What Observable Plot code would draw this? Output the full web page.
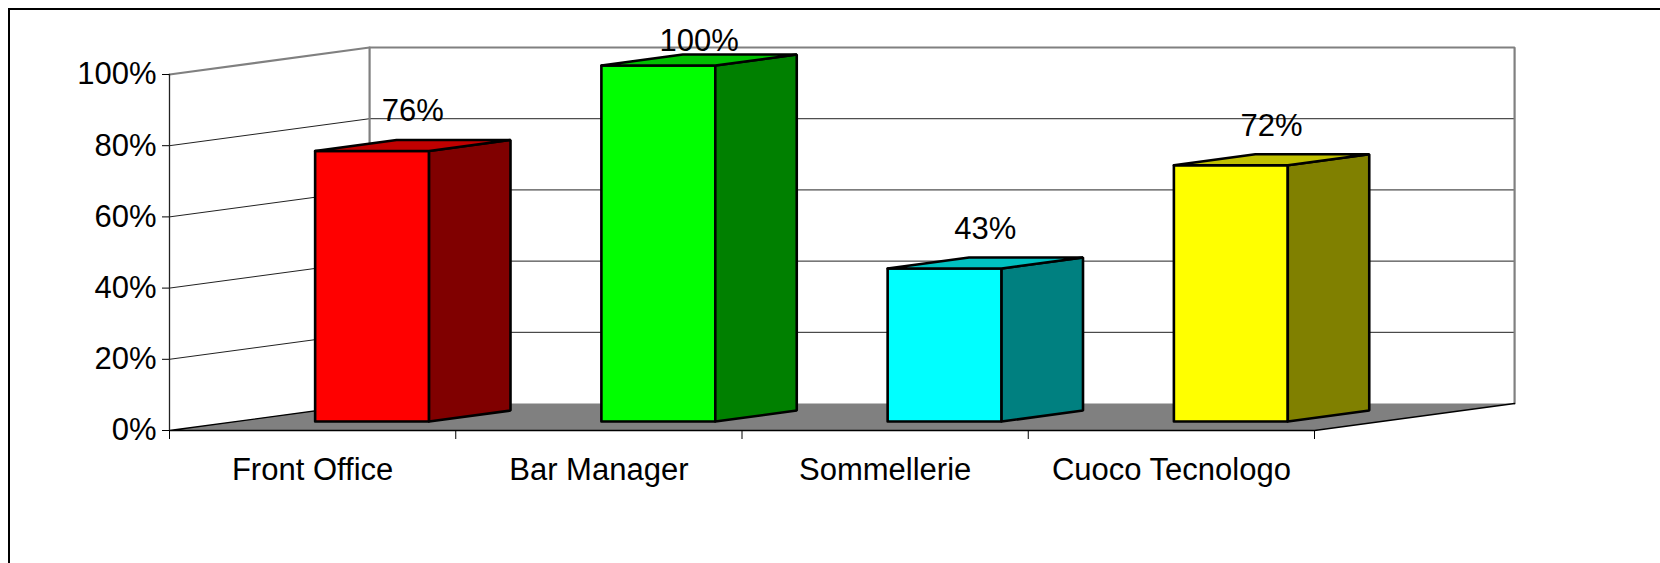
<!DOCTYPE html>
<html>
<head>
<meta charset="utf-8">
<script src="https://cdn.jsdelivr.net/npm/d3@7"></script>
<script src="https://cdn.jsdelivr.net/npm/@observablehq/plot@0.6"></script>
<style>
  html, body { margin: 0; padding: 0; background: #fff; overflow: hidden; width: 1660px; height: 563px; }
  #wrap { position: relative; width: 1660px; height: 563px; overflow: hidden; }
  #frame { position: absolute; left: 8px; top: 8px; width: 1700px; height: 700px; border-top: 2px solid #000; border-left: 2px solid #000; box-sizing: border-box; pointer-events: none; }
  #chart { position: absolute; left: 0; top: 0; }
</style>
</head>
<body>
<div id="wrap"><div id="chart"></div><div id="frame"></div></div>
<script>
// ---- data ----
const categories = ["Front Office", "Bar Manager", "Sommellerie", "Cuoco Tecnologo"];
const values = [0.76, 1.00, 0.43, 0.72];
const frontColors = ["#FF0000", "#00FF00", "#00FFFF", "#FFFF00"];
const sideColors = ["#800000", "#008000", "#008080", "#808000"];
const topColors = ["#C00000", "#00C000", "#00C0C0", "#C0C000"];
const yTicks = [0, 0.2, 0.4, 0.6, 0.8, 1.0];
const yTickLabels = ["0%", "20%", "40%", "60%", "80%", "100%"];

// ---- oblique 3D projection expressed in data units ----
const DEPTH_X = 0.699;   // category units shifted per full floor depth
const DEPTH_Y = 0.0758;  // value units shifted per full floor depth
const BAR_Z0 = 0.333, BAR_Z1 = 0.74;   // bar front / back planes
const BAR_U0 = 0.276, BAR_U1 = 0.674;  // bar left / right inside its category
const LABEL_MAX = 1.0;                 // data labels stay inside plot area
const n = categories.length;
const P = (u, v, z) => ({x: u + z * DEPTH_X, y: v + z * DEPTH_Y});
const poly = pts => [...pts, pts[0]];

const font = "'Liberation Sans', Arial, Helvetica, sans-serif";
const marks = [];

// floor
marks.push(Plot.line(poly([P(0,0,0), P(n,0,0), P(n,0,1), P(0,0,1)]),
  {x: "x", y: "y", fill: "#808080", stroke: "none"}));

// wall gridlines (back wall + left wall)
for (const t of yTicks) {
  if (t === 0 || t === 1) continue;
  marks.push(Plot.line([P(0,t,0), P(0,t,1), P(n,t,1)],
    {x: "x", y: "y", stroke: "#222", strokeWidth: 1}));
}
// wall outlines (top edge, back wall vertical edges)
marks.push(Plot.line([P(0,1,0), P(0,1,1), P(n,1,1), P(n,0,1)],
  {x: "x", y: "y", stroke: "#808080", strokeWidth: 2.2, strokeLinejoin: "miter"}));
marks.push(Plot.line([P(0,0,1), P(0,1,1)],
  {x: "x", y: "y", stroke: "#808080", strokeWidth: 2.2}));
// floor edges
marks.push(Plot.line([P(0,0,1), P(0,0,0), P(n,0,0), P(n,0,1)],
  {x: "x", y: "y", stroke: "#000", strokeWidth: 1.3}));
// front-left axis edge
marks.push(Plot.line([P(0,0,0), P(0,1,0)],
  {x: "x", y: "y", stroke: "#222", strokeWidth: 1.3}));

// axes
marks.push(Plot.axisY({ticks: yTicks, tickFormat: d => yTickLabels[yTicks.indexOf(d)], label: null,
  tickSize: 7, tickPadding: 6, fontSize: 31, stroke: "#000", fill: "#000"}));
marks.push(Plot.axisX({ticks: d3.range(n + 1), tickFormat: () => "", label: null, tickSize: 9, stroke: "#000"}));
marks.push(Plot.axisX({ticks: d3.range(n).map(i => i + 0.5), tickFormat: d => categories[Math.floor(d)],
  label: null, tickSize: 0, tickPadding: 27, fontSize: 31, fill: "#000"}));

// bars
categories.forEach((c, i) => {
  const v = values[i];
  const u0 = i + BAR_U0, u1 = i + BAR_U1;
  const style = {x: "x", y: "y", stroke: "#000", strokeWidth: 2.6, strokeLinejoin: "miter"};
  marks.push(Plot.line(poly([P(u0,0,BAR_Z0), P(u1,0,BAR_Z0), P(u1,v,BAR_Z0), P(u0,v,BAR_Z0)]),
    {...style, fill: frontColors[i]}));
  marks.push(Plot.line(poly([P(u1,0,BAR_Z0), P(u1,0,BAR_Z1), P(u1,v,BAR_Z1), P(u1,v,BAR_Z0)]),
    {...style, fill: sideColors[i]}));
  marks.push(Plot.line(poly([P(u0,v,BAR_Z0), P(u1,v,BAR_Z0), P(u1,v,BAR_Z1), P(u0,v,BAR_Z1)]),
    {...style, fill: topColors[i]}));
});

// value labels, centred over each bar's top face
const zMid = (BAR_Z0 + BAR_Z1) / 2;
const labels = categories.map((c, i) => {
  const p = P(i + (BAR_U0 + BAR_U1) / 2, values[i], zMid);
  return {x: p.x, y: Math.min(p.y, LABEL_MAX), text: Math.round(values[i] * 100) + "%"};
});
marks.push(Plot.text(labels, {x: "x", y: "y", text: "text", fontSize: 31, fill: "#000",
  lineAnchor: "bottom", dy: -24}));

const chart = Plot.plot({
  width: 1660, height: 563,
  marginLeft: 169, marginRight: 346, marginTop: 74, marginBottom: 133,
  x: {type: "linear", domain: [0, n], label: null},
  y: {type: "linear", domain: [0, 1], label: null},
  style: {fontFamily: font, fontSize: "31px", background: "transparent", color: "#000", overflow: "visible"},
  marks
});
document.getElementById("chart").appendChild(chart);
</script>
</body>
</html>
